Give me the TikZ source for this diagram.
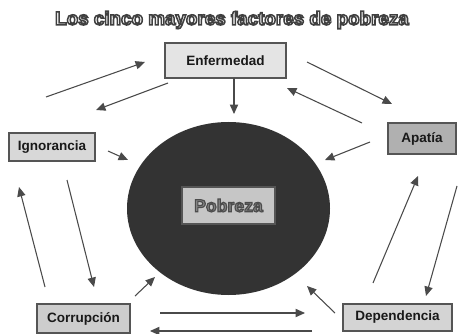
\documentclass[tikz,border=0pt]{standalone}
\usepackage{fontspec}
\setmainfont{Liberation Sans}
\usepackage{tikz}
\usetikzlibrary{arrows.meta,positioning,shapes.geometric}
\definecolor{edge}{HTML}{555555}
\definecolor{lineg}{HTML}{4A4A4A}
\definecolor{core}{HTML}{333333}
\definecolor{enf}{HTML}{E4E4E4}
\definecolor{ign}{HTML}{D8D8D8}
\definecolor{apa}{HTML}{B0B0B0}
\definecolor{cor}{HTML}{CDCDCD}
\definecolor{dep}{HTML}{D4D4D4}
\definecolor{pob}{HTML}{C6C6C6}
% outlined text: fill colour from xcolor, stroke grey set by hand
\newcommand{\outlined}[4]{\textcolor{#1}{\special{pdf:literal direct 2 Tr #2 w #3 G}#4\special{pdf:literal direct 0 Tr}}}

\begin{document}
\begin{tikzpicture}[
  x=0.85pt, y=-0.85pt,
  factor/.style={draw=edge, line width=1.1pt, fill=#1, font=\fontsize{11.5}{12}\selectfont\bfseries, text=black!90, inner sep=0pt},
  arrow/.style={-{Triangle[length=8pt, width=7pt]}, lineg, line width=0.9pt},
]
  \useasboundingbox (0,0) rectangle (458,334);

  % Title
  \node[font=\fontsize{16}{18}\selectfont\bfseries] (title) at (232,20)
    {\outlined{white}{1.3}{0.25}{Los cinco mayores factores de pobreza}};

  % Core
  \node[ellipse, fill=core, minimum width={203*0.85pt}, minimum height={173*0.85pt}, inner sep=0pt] (core) at (228.5,208.5) {};
  \node[draw=edge, line width=1.1pt, fill=pob, minimum width={93*0.85pt}, minimum height={37*0.85pt}, inner sep=0pt,
        font=\fontsize{15}{16}\selectfont\bfseries] (pobreza) at (228.5,205.5)
    {\outlined{black!48}{1.0}{0.3}{Pobreza}};

  % Factors
  \node[factor=enf, minimum width={121*0.85pt}, minimum height={35*0.85pt}] (enfermedad) at (225.5,60.5) {Enfermedad};
  \node[factor=ign, minimum width={86*0.85pt}, minimum height={28*0.85pt}] (ignorancia) at (52,147) {Ignorancia};
  \node[factor=apa, minimum width={68*0.85pt}, minimum height={31*0.85pt}] (apatia) at (422,138.5) {Apatía};
  \node[factor=cor, minimum width={93*0.85pt}, minimum height={29*0.85pt}] (corrupcion) at (83.5,318.5) {Corrupción};
  \node[factor=dep, minimum width={109*0.85pt}, minimum height={27*0.85pt}] (dependencia) at (397.5,317.5) {Dependencia};

  % Arrow ends
  \coordinate (a1) at (46,97);   \coordinate (b1) at (145,62);
  \coordinate (a2) at (168,83);  \coordinate (b2) at (96,110);
  \coordinate (a3) at (234,78);  \coordinate (b3) at (234,114);
  \coordinate (a4) at (307,62);  \coordinate (b4) at (392,104);
  \coordinate (a5) at (362,123); \coordinate (b5) at (287,88);
  \coordinate (a6) at (370,142); \coordinate (b6) at (325,160);
  \coordinate (a7) at (108,151); \coordinate (b7) at (128,160);
  \coordinate (a8) at (45,287);  \coordinate (b8) at (19,187);
  \coordinate (a9) at (67,180);  \coordinate (b9) at (94,287);
  \coordinate (a10) at (135,296); \coordinate (b10) at (155,277);
  \coordinate (a11) at (160,313); \coordinate (b11) at (305,313);
  \coordinate (a12) at (312,331); \coordinate (b12) at (150,331);
  \coordinate (a13) at (335,313); \coordinate (b13) at (307,286);
  \coordinate (a14) at (373,283); \coordinate (b14) at (418,176);
  \coordinate (a15) at (457,186); \coordinate (b15) at (426,296);

  % Arrows
  \foreach \i in {1,...,15}
    \draw[arrow] (a\i) -- (b\i);
\end{tikzpicture}
\end{document}
